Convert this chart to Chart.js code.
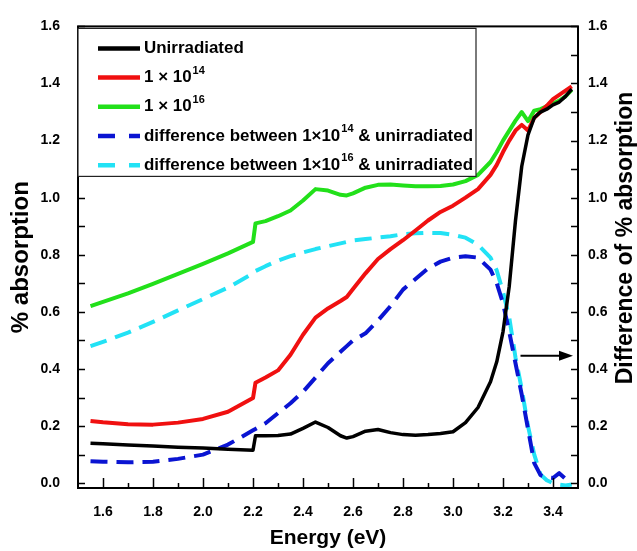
<!DOCTYPE html>
<html>
<head>
<meta charset="utf-8">
<script src="https://cdn.jsdelivr.net/npm/chart.js@4.4.1/dist/chart.umd.min.js"></script>
<style>
  html, body { margin: 0; padding: 0; background: #fff; }
</style>
</head>
<body>
<canvas id="chart" width="637" height="551"></canvas>
<script>
// photon energy (eV)
const energy = [1.55, 1.6, 1.7, 1.8, 1.9, 2.0, 2.1, 2.2, 2.21, 2.25, 2.3, 2.35, 2.4, 2.45, 2.5, 2.55, 2.575, 2.6, 2.65, 2.7,
    2.75, 2.8, 2.85, 2.9, 2.95, 3.0, 3.05, 3.1, 3.15, 3.175, 3.2, 3.225, 3.25, 3.275, 3.3, 3.325, 3.35, 3.375, 3.4, 3.425, 3.45, 3.475];

const unirradiated = [0.140, 0.138, 0.134, 0.130, 0.126, 0.123, 0.119, 0.115, 0.166, 0.166, 0.167, 0.172, 0.192, 0.214, 0.195, 0.166, 0.158, 0.163, 0.182, 0.188,
    0.177, 0.170, 0.168, 0.170, 0.174, 0.180, 0.212, 0.265, 0.355, 0.425, 0.53, 0.69, 0.92, 1.11, 1.22, 1.28, 1.30, 1.31, 1.325, 1.335, 1.355, 1.38];
const fluence14 = [0.218, 0.213, 0.206, 0.205, 0.212, 0.225, 0.250, 0.298, 0.352, 0.37, 0.395, 0.45, 0.52, 0.58, 0.612, 0.638, 0.652, 0.68, 0.735, 0.785,
    0.82, 0.851, 0.885, 0.92, 0.95, 0.972, 1.00, 1.03, 1.08, 1.115, 1.16, 1.20, 1.235, 1.255, 1.235, 1.28, 1.30, 1.322, 1.345, 1.36, 1.375, 1.39];
const fluence16 = [0.620, 0.635, 0.665, 0.698, 0.733, 0.768, 0.805, 0.845, 0.910, 0.918, 0.935, 0.955, 0.990, 1.030, 1.025, 1.010, 1.008, 1.015, 1.035, 1.045,
    1.046, 1.043, 1.040, 1.040, 1.041, 1.046, 1.058, 1.08, 1.125, 1.16, 1.20, 1.235, 1.27, 1.30, 1.268, 1.305, 1.31, 1.32, 1.33, 1.34, 1.355, 1.378];
const diff14 = [0.077, 0.075, 0.073, 0.075, 0.085, 0.100, 0.135, 0.185, 0.190, 0.21, 0.245, 0.28, 0.32, 0.37, 0.42, 0.46, 0.48, 0.50, 0.525, 0.57,
    0.62, 0.678, 0.715, 0.752, 0.776, 0.79, 0.795, 0.79, 0.748, 0.70, 0.63, 0.53, 0.42, 0.31, 0.19, 0.07, 0.028, 0.02, 0.018, 0.035, 0.015, 0.03];
const diff16 = [0.48, 0.495, 0.527, 0.565, 0.605, 0.645, 0.685, 0.735, 0.743, 0.76, 0.78, 0.795, 0.808, 0.82, 0.83, 0.84, 0.845, 0.85, 0.855, 0.86,
    0.865, 0.872, 0.875, 0.877, 0.876, 0.87, 0.86, 0.835, 0.79, 0.745, 0.67, 0.58, 0.44, 0.33, 0.20, 0.10, 0.03, 0.01, 0.0, -0.005, -0.008, -0.005];

const xTicks = [1.6, 1.8, 2.0, 2.2, 2.4, 2.6, 2.8, 3.0, 3.2, 3.4];
const yTicks = [0, 0.2, 0.4, 0.6, 0.8, 1.0, 1.2, 1.4, 1.6];

// arrow pointing to the right-hand axis: [energy, value]
const arrowFrom = [3.27, 0.446];
const arrowTo = [3.48, 0.446];

const legendEntries = [
    {text: 'Unirradiated', sup: '', after: '', color: '#000000', dash: []},
    {text: '1 \u00d7 10', sup: '14', after: '', color: '#f01010', dash: []},
    {text: '1 \u00d7 10', sup: '16', after: '', color: '#22e01a', dash: []},
    {text: 'difference between 1\u00d710', sup: '14', after: ' & unirradiated', color: '#0a14d2', dash: [17, 14]},
    {text: 'difference between 1\u00d710', sup: '16', after: ' & unirradiated', color: '#22e2f5', dash: [17, 14]}
];

const FONT = "'Liberation Sans', Arial, sans-serif";

function pairs(ys) {
    return energy.map((x, i) => ({x: x, y: ys[i]}));
}

function richText(ctx, item, x, y, draw) {
    let w = 0;
    ctx.font = 'bold 17px ' + FONT;
    if (draw) ctx.fillText(item.text, x, y);
    w += ctx.measureText(item.text).width;
    if (item.sup) {
        ctx.font = 'bold 11px ' + FONT;
        if (draw) ctx.fillText(item.sup, x + w + 1, y - 7);
        w += ctx.measureText(item.sup).width + 1;
    }
    if (item.after) {
        ctx.font = 'bold 17px ' + FONT;
        if (draw) ctx.fillText(item.after, x + w, y);
        w += ctx.measureText(item.after).width;
    }
    return w;
}

const decorations = {
    id: 'decorations',
    afterDatasetsDraw(chart) {
        const {ctx, chartArea: a, scales} = chart;
        ctx.save();
        ctx.strokeStyle = '#000';
        ctx.lineWidth = 1.5;
        ctx.beginPath();
        const xMinor = xTicks.slice(1).map((v, i) => (v + xTicks[i]) / 2);
        xTicks.forEach(v => {
            const px = Math.round(scales.x.getPixelForValue(v)) + 0.5;
            ctx.moveTo(px, a.bottom); ctx.lineTo(px, a.bottom - 10);
        });
        xMinor.forEach(v => {
            const px = Math.round(scales.x.getPixelForValue(v)) + 0.5;
            ctx.moveTo(px, a.bottom); ctx.lineTo(px, a.bottom - 5);
        });
        const yAll = yTicks.concat(yTicks.slice(1).map((v, i) => (v + yTicks[i]) / 2));
        yAll.forEach(v => {
            const py = Math.round(scales.y.getPixelForValue(v)) + 0.5;
            ctx.moveTo(a.left, py); ctx.lineTo(a.left + 7, py);
            ctx.moveTo(a.right, py); ctx.lineTo(a.right - 7, py);
        });
        ctx.stroke();
        ctx.lineWidth = 2;
        ctx.strokeRect(a.left, a.top, a.right - a.left, a.bottom - a.top);

        // arrow
        const x0 = scales.x.getPixelForValue(arrowFrom[0]);
        const x1 = scales.x.getPixelForValue(arrowTo[0]);
        const ya = scales.y2.getPixelForValue(arrowFrom[1]);
        ctx.lineWidth = 2;
        ctx.beginPath();
        ctx.moveTo(x0, ya); ctx.lineTo(x1 - 12, ya);
        ctx.stroke();
        ctx.fillStyle = '#000';
        ctx.beginPath();
        ctx.moveTo(x1, ya); ctx.lineTo(x1 - 14, ya - 5); ctx.lineTo(x1 - 14, ya + 5);
        ctx.closePath();
        ctx.fill();
        ctx.restore();
    },
    afterDraw(chart) {
        const {ctx, chartArea: a} = chart;
        ctx.save();
        // legend box
        const bx = a.left, by = a.top + 2, bw = 398, bh = 148;
        ctx.fillStyle = '#fff';
        ctx.fillRect(bx, by, bw, bh);
        ctx.strokeStyle = '#222';
        ctx.lineWidth = 1.2;
        ctx.strokeRect(bx, by, bw, bh);

        ctx.textBaseline = 'middle';
        ctx.textAlign = 'left';
        const widest = Math.max(...legendEntries.map(e => richText(ctx, e, 0, 0, false)));
        const sx = Math.min(1, 329 / widest);
        legendEntries.forEach((e, i) => {
            const yy = by + 20 + i * 29.2;
            ctx.strokeStyle = e.color;
            ctx.lineWidth = 4.5;
            ctx.setLineDash(e.dash);
            ctx.beginPath();
            ctx.moveTo(bx + 20, yy); ctx.lineTo(bx + 62, yy);
            ctx.stroke();
            ctx.setLineDash([]);
            ctx.save();
            ctx.translate(bx + 66, yy);
            ctx.scale(sx, 1);
            ctx.fillStyle = '#000';
            richText(ctx, e, 0, 0, true);
            ctx.restore();
        });

        // right axis title, reading bottom to top
        ctx.translate(626, 238);
        ctx.rotate(-Math.PI / 2);
        ctx.textAlign = 'center';
        ctx.fillStyle = '#000';
        ctx.font = 'bold 23px ' + FONT;
        ctx.fillText('Difference of % absorption', 0, 0);
        ctx.restore();
    }
};

const tickFont = {family: FONT, size: 14, weight: 'bold'};

new Chart(document.getElementById('chart'), {
    type: 'line',
    data: {
        datasets: [
            {label: 'Unirradiated', data: pairs(unirradiated), yAxisID: 'y', borderColor: '#000000', borderWidth: 3.5},
            {label: '1 × 10^14', data: pairs(fluence14), yAxisID: 'y', borderColor: '#f01010', borderWidth: 4},
            {label: '1 × 10^16', data: pairs(fluence16), yAxisID: 'y', borderColor: '#22e01a', borderWidth: 4},
            {label: 'difference between 1×10^14 & unirradiated', data: pairs(diff14), yAxisID: 'y2',
                borderColor: '#0a14d2', borderWidth: 4, borderDash: [17, 9]},
            {label: 'difference between 1×10^16 & unirradiated', data: pairs(diff16), yAxisID: 'y2',
                borderColor: '#22e2f5', borderWidth: 4, borderDash: [17, 9]}
        ].map(d => Object.assign(d, {fill: false, pointRadius: 0, tension: 0, borderJoinStyle: 'round'}))
    },
    options: {
        responsive: false,
        animation: false,
        parsing: false,
        layout: {padding: {top: 20, left: 0, right: 0, bottom: 0}},
        scales: {
            x: {
                type: 'linear',
                min: 1.5, max: 3.5,
                afterBuildTicks: s => { s.ticks = xTicks.map(v => ({value: v})); },
                afterFit: s => { s.height = 63; },
                grid: {display: false, drawTicks: false},
                border: {display: false},
                ticks: {color: '#000', font: tickFont, padding: 16, maxRotation: 0, autoSkip: false,
                    callback: v => v.toFixed(1)},
                title: {display: true, text: 'Energy (eV)', color: '#000',
                    font: {family: FONT, size: 21, weight: 'bold', lineHeight: 1}, padding: {top: 0, bottom: 2}}
            },
            y: {
                type: 'linear', position: 'left',
                min: -0.017, max: 1.6,
                afterBuildTicks: s => { s.ticks = yTicks.map(v => ({value: v})); },
                afterFit: s => { s.width = 78; },
                grid: {display: false, drawTicks: false},
                border: {display: false},
                ticks: {color: '#000', font: tickFont, padding: 18, autoSkip: false, callback: v => v.toFixed(1)},
                title: {display: true, text: '% absorption', color: '#000',
                    font: {family: FONT, size: 24, weight: 'bold', lineHeight: 1}, padding: {top: 9, bottom: 0}}
            },
            y2: {
                type: 'linear', position: 'right',
                min: -0.017, max: 1.6,
                afterBuildTicks: s => { s.ticks = yTicks.map(v => ({value: v})); },
                afterFit: s => { s.width = 59; },
                grid: {display: false, drawTicks: false},
                border: {display: false},
                ticks: {color: '#000', font: tickFont, padding: 10, autoSkip: false, callback: v => v.toFixed(1)}
            }
        },
        plugins: {
            legend: {display: false},
            tooltip: {enabled: false}
        }
    },
    plugins: [decorations]
});
</script>
</body>
</html>
